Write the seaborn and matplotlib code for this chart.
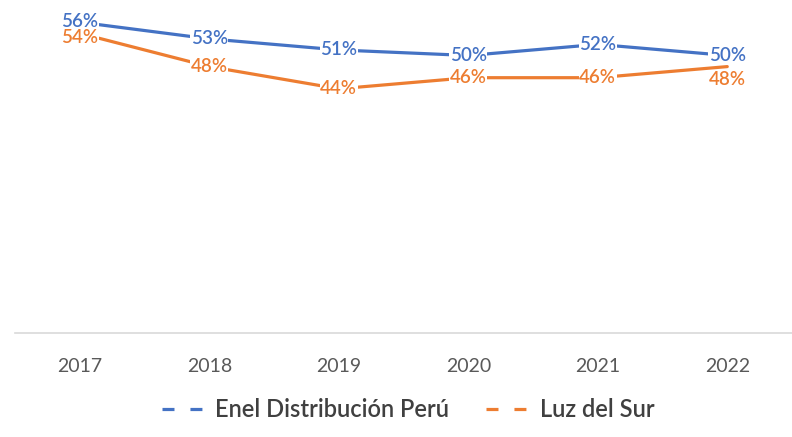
import pandas as pd
import numpy as np
import matplotlib.pyplot as plt
import seaborn as sns

# datos
anios = ['2017', '2018', '2019', '2020', '2021', '2022']
enel = [0.56, 0.53, 0.51, 0.50, 0.52, 0.50]
luz = [0.54, 0.48, 0.44, 0.46, 0.46, 0.48]
series = ['Enel Distribución Perú', 'Luz del Sur']
colores = ['#4472C4', '#ED7D31']

df = pd.DataFrame({'anio': anios * 2,
                   'valor': enel + luz,
                   'empresa': [series[0]] * 6 + [series[1]] * 6})

sns.set_style('white')
plt.rcParams['font.family'] = ['Lato', 'DejaVu Sans']

fig = plt.figure(figsize=(7.92, 4.37), dpi=100)
ax = fig.add_axes([0.019, 0.238, 0.981, 0.762])

sns.lineplot(data=df, x='anio', y='valor', hue='empresa', palette=colores,
             linewidth=2.3, sort=False, legend=False, ax=ax)

ax.set_xlim(-0.5, 5.5)
ax.set_ylim(0, 0.6)

# etiquetas de datos (algunas desplazadas como en el original)
desp = {(0, 0): 0.002, (1, 0): -0.008, (1, 5): -0.024}
for k, (vals, col) in enumerate(zip([enel, luz], colores)):
    for i, v in enumerate(vals):
        dy = desp.get((k, i), 0)
        ax.text(i, v + dy, f'{int(round(v * 100))}%', color=col, fontsize=13.5,
                ha='center', va='center', fontweight='semibold', clip_on=False,
                bbox=dict(facecolor='white', edgecolor='none', pad=0.3))

for s in ['top', 'right', 'left']:
    ax.spines[s].set_visible(False)
ax.spines['bottom'].set_color('#D9D9D9')
ax.spines['bottom'].set_linewidth(1.2)
ax.set_yticks([])
ax.set_xlabel('')
ax.set_ylabel('')
ax.tick_params(axis='x', length=0, pad=18, labelsize=14, labelcolor='#595959')

# leyenda
handles = [plt.Line2D([], [], color=c, linewidth=2.3, linestyle=(0, (3.75, 5)))
           for c in colores]
leg = fig.legend(handles, series, loc='center', bbox_to_anchor=(0.515, 0.062), ncol=2,
                 frameon=False, fontsize=17, handlelength=2.2, columnspacing=1.6,
                 handletextpad=0.05)
for t in leg.get_texts():
    t.set_color('#404040')
    t.set_fontweight('semibold')

fig.savefig('out.png', dpi=100)
